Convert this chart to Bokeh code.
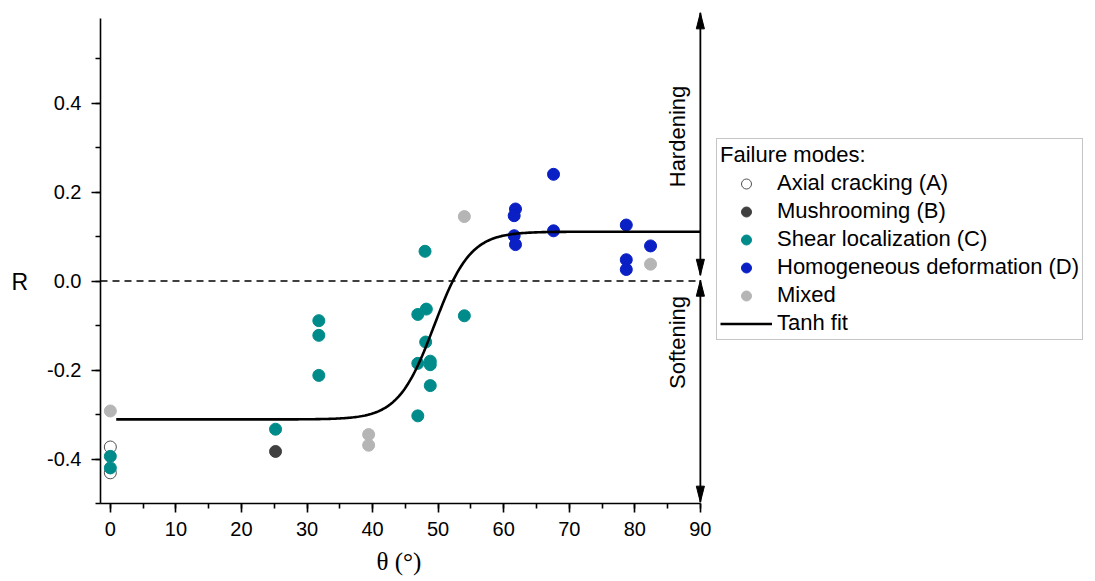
import numpy as np
from bokeh.plotting import figure
from bokeh.models import Range1d, SingleIntervalTicker, PrintfTickFormatter, Label, Title
from bokeh.embed import file_html
from bokeh.resources import INLINE

# ---- measured data: orientation angle theta (deg) and hardening ratio R ----
theta_axial = [0.0, 0.0]
r_axial = [-0.373, -0.431]

theta_mush = [25.2]
r_mush = [-0.383]

theta_shear = [0.0, 0.0, 25.2, 31.8, 31.8, 31.8, 46.9, 46.9, 46.9,
               48.0, 48.2, 48.1, 48.8, 48.8, 48.8, 54.0]
r_shear = [-0.394, -0.420, -0.333, -0.089, -0.122, -0.212, -0.075, -0.185, -0.303,
           0.067, -0.063, -0.137, -0.180, -0.188, -0.235, -0.078]

theta_homog = [61.8, 61.6, 61.6, 61.8, 67.6, 67.6, 78.7, 78.7, 78.7, 82.4]
r_homog = [0.162, 0.147, 0.102, 0.082, 0.240, 0.113, 0.126, 0.048, 0.026, 0.079]

theta_mixed = [0.0, 39.4, 39.4, 54.0, 82.4]
r_mixed = [-0.292, -0.345, -0.369, 0.145, 0.038]

# ---- tanh fit parameters: R = mid + amp * tanh((theta - theta0) / width) ----
FIT_LOW, FIT_HIGH = -0.311, 0.111
FIT_THETA0, FIT_WIDTH = 49.4, 5.5
FIT_THETA_START, FIT_THETA_END = 0.9, 90.0

SANS = "Liberation Sans"
SERIF = "Liberation Serif"

p = figure(width=1095, height=581, output_backend="svg", toolbar_location=None,
           x_range=Range1d(-1.5, 150.27), y_range=Range1d(-0.5, 0.606),
           min_border_left=100, min_border_right=0, min_border_top=11,
           min_border_bottom=78)
p.outline_line_color = None
p.grid.visible = False
p.background_fill_color = "white"

# axes
xa = p.xaxis[0]
xa.bounds = (-1.5, 90)
xa.ticker = SingleIntervalTicker(interval=10, num_minor_ticks=2)
ya = p.yaxis[0]
ya.bounds = (-0.5, 0.59)
ya.ticker = SingleIntervalTicker(interval=0.2, num_minor_ticks=2)
ya.formatter = PrintfTickFormatter(format="%.1f")
for ax in (xa, ya):
    ax.axis_line_width = 1.6
    ax.axis_line_color = "black"
    ax.major_tick_line_width = 1.6
    ax.minor_tick_line_width = 1.6
    ax.major_tick_line_color = "black"
    ax.minor_tick_line_color = "black"
    ax.major_tick_out = 9
    ax.major_tick_in = 0
    ax.minor_tick_out = 5
    ax.minor_tick_in = 0
    ax.major_label_text_font = SANS
    ax.major_label_text_font_size = "20px"
    ax.major_label_text_color = "black"
xa.major_label_standoff = 9
ya.major_label_standoff = 10

# y axis title, written horizontally and lowered to the R = 0 line
ya.axis_label = "\n\nR"
ya.axis_label_orientation = "horizontal"
ya.axis_label_standoff = 16
ya.axis_label_text_font = SANS
ya.axis_label_text_font_size = "23px"
ya.axis_label_text_font_style = "normal"
ya.axis_label_text_color = "black"
ya.axis_label_text_line_height = 0.95

# x axis title
p.add_layout(Title(text="θ (°)", align="left", offset=276, text_font=SERIF,
                   text_font_size="25px", text_font_style="normal",
                   text_color="black", standoff=14), "below")

# zero reference line
p.segment(x0=[-1.5], y0=[0.0], x1=[90.0], y1=[0.0], line_color="black",
          line_width=1.5, line_dash="7 5")

# hardening / softening double arrows at theta = 90
ARROW_X = 90.0
HEAD_LEN = 0.036
HEAD_HALF = 0.62
hard_span = (0.013, 0.603)
soft_span = (-0.497, 0.002)
p.segment(x0=[ARROW_X, ARROW_X], y0=[hard_span[0], soft_span[0]],
          x1=[ARROW_X, ARROW_X], y1=[hard_span[1], soft_span[1]],
          line_color="black", line_width=1.8)
head_xs, head_ys = [], []
for lo, hi in (hard_span, soft_span):
    head_xs += [[ARROW_X - HEAD_HALF, ARROW_X, ARROW_X + HEAD_HALF]] * 2
    head_ys += [[hi - HEAD_LEN, hi, hi - HEAD_LEN], [lo + HEAD_LEN, lo, lo + HEAD_LEN]]
p.patches(head_xs, head_ys, fill_color="black", line_color="black", line_width=1)

# data points
MS = 12
p.scatter(theta_axial, r_axial, size=MS, marker="circle", fill_color="white",
          line_color="#505050", line_width=1, legend_label="Axial cracking (A)")
p.scatter(theta_mush, r_mush, size=MS, marker="circle", fill_color="#404040",
          line_color="#404040", legend_label="Mushrooming (B)")
p.scatter(theta_shear, r_shear, size=MS, marker="circle", fill_color="#008b8b",
          line_color="#008b8b", legend_label="Shear localization (C)")
p.scatter(theta_homog, r_homog, size=MS, marker="circle", fill_color="#0a1fc4",
          line_color="#0a1fc4", legend_label="Homogeneous deformation (D)")
p.scatter(theta_mixed, r_mixed, size=MS, marker="circle", fill_color="#b5b5b5",
          line_color="#b5b5b5", legend_label="Mixed")

# tanh fit curve
fit_theta = np.linspace(FIT_THETA_START, FIT_THETA_END, 400)
mid = 0.5 * (FIT_HIGH + FIT_LOW)
amp = 0.5 * (FIT_HIGH - FIT_LOW)
fit_r = mid + amp * np.tanh((fit_theta - FIT_THETA0) / FIT_WIDTH)
p.line(fit_theta, fit_r, line_color="black", line_width=2.6, legend_label="Tanh fit")

# legend
lg = p.legend[0]
lg.title = "Failure modes:"
lg.title_text_font = SANS
lg.title_text_font_size = "22px"
lg.title_text_font_style = "normal"
lg.title_text_color = "black"
lg.title_standoff = 2
lg.label_text_font = SANS
lg.label_text_font_size = "22px"
lg.label_text_color = "black"
lg.location = (616, 163)
lg.padding = 3
lg.margin = 0
lg.spacing = 2
lg.glyph_height = 25
lg.label_height = 25
lg.glyph_width = 52
lg.label_standoff = 5
lg.border_line_color = "#8c8c8c"
lg.border_line_width = 1
lg.background_fill_color = "white"
lg.background_fill_alpha = 1.0

# region labels beside the arrows
p.add_layout(Label(x=86.5, y=0.325, text="Hardening", angle=np.pi / 2, text_font=SANS,
                   text_font_size="22px", text_align="center", text_baseline="middle",
                   text_color="black"))
p.add_layout(Label(x=86.5, y=-0.138, text="Softening", angle=np.pi / 2, text_font=SANS,
                   text_font_size="22px", text_align="center", text_baseline="middle",
                   text_color="black"))

open("out.html", "w").write(file_html(p, INLINE))
